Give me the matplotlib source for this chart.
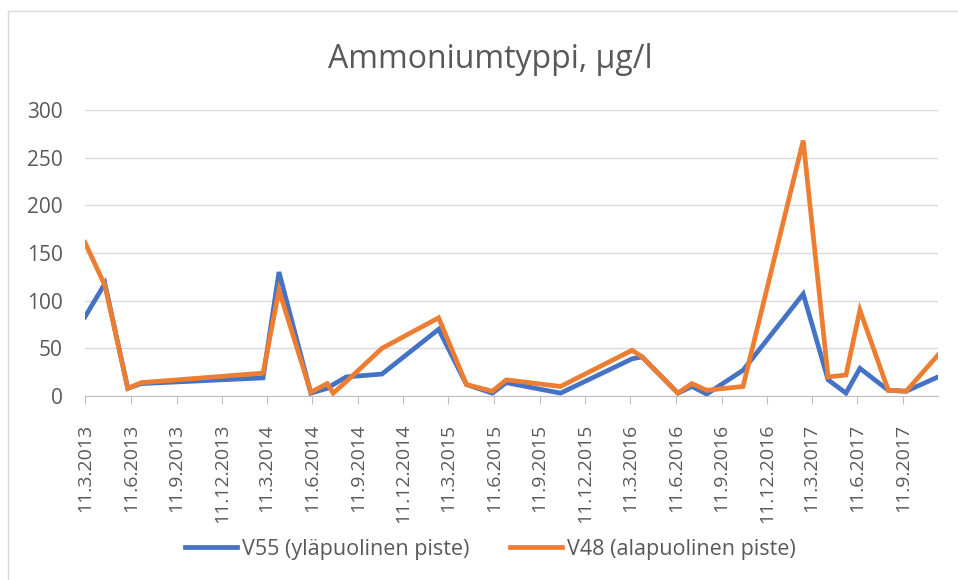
import datetime as dt
import matplotlib
matplotlib.use("Agg")
import matplotlib.pyplot as plt
from matplotlib.patches import Rectangle

# sampling dates
dates = ["2013-03-11", "2013-04-20", "2013-06-05", "2013-07-02", "2014-03-04",
         "2014-04-05", "2014-06-08", "2014-07-11", "2014-07-23", "2014-08-18",
         "2014-10-29", "2015-02-20", "2015-04-17", "2015-06-08", "2015-07-06",
         "2015-10-23", "2016-03-15", "2016-04-04", "2016-06-15", "2016-07-13",
         "2016-08-12", "2016-10-24", "2017-02-22", "2017-04-13", "2017-05-19",
         "2017-06-16", "2017-08-12", "2017-09-17", "2017-11-20"]
v55 = [83, 118, 8, 13, 19, 130, 3, 8, 12, 20, 23, 70, 12, 3, 14,
       3, 39, 41, 3, 10, 2, 27, 107, 17, 3, 29, 6, 5, 20]
v48 = [161, 116, 8, 14, 24, 111, 4, 13, 3, 15, 50, 82, 12, 5, 17,
       10, 48, 41, 3, 13, 6, 10, 268, 20, 22, 90, 6, 5, 43]
labels = ["V55 (yläpuolinen piste)", "V48 (alapuolinen piste)"]
title = "Ammoniumtyppi, µg/l"

x = [dt.datetime.strptime(d, "%Y-%m-%d") for d in dates]
ticks = []
y, m = 2013, 3
while (y, m) <= (2017, 9):
    ticks.append(dt.datetime(y, m, 11))
    m += 3
    if m > 12:
        m -= 12
        y += 1

txt = "#595959"
plt.rcParams['font.family'] = ["Open Sans", "DejaVu Sans"]

fig = plt.figure(figsize=(9.58, 5.80), dpi=100)
fig.patches.append(Rectangle((8 / 958, -0.1), 1.2, 1 - 11 / 580 + 0.1, transform=fig.transFigure,
                             fill=False, edgecolor="#d9d9d9", linewidth=1))
ax = fig.add_axes([85 / 958, 184 / 580, 853 / 958, 286 / 580])

ax.plot(x, v55, color="#4472C4", linewidth=3.4, label=labels[0], solid_joinstyle="miter")
ax.plot(x, v48, color="#ED7D31", linewidth=3.4, label=labels[1], solid_joinstyle="miter")

ax.set_xlim(x[0], x[-1])
ax.set_ylim(0, 300)
ax.set_yticks(range(0, 301, 50))
ax.grid(axis="y", color="#d9d9d9", linewidth=1)
ax.set_axisbelow(True)
for s in ["top", "right", "left"]:
    ax.spines[s].set_visible(False)
ax.spines["bottom"].set_color("#bfbfbf")
ax.spines["bottom"].set_zorder(0.5)

ax.set_xticks(ticks)
ax.set_xticklabels([f"{t.day}.{t.month}.{t.year}" for t in ticks], rotation=90)
ax.tick_params(axis="x", colors="#bfbfbf", labelcolor=txt, labelsize=14, length=6, pad=14)
ax.tick_params(axis="y", length=0, labelcolor=txt, labelsize=15, pad=16)

fig.suptitle(title, x=0.512, y=1 - 60 / 580, va="center", fontsize=23, color=txt)
fig.legend(loc="center", bbox_to_anchor=(0.512, 1 - 549 / 580), ncol=2, frameon=False,
           fontsize=15.5, labelcolor=txt, handlelength=2.4, handletextpad=0.25, columnspacing=1.9)

fig.savefig("out.png", dpi=100)
